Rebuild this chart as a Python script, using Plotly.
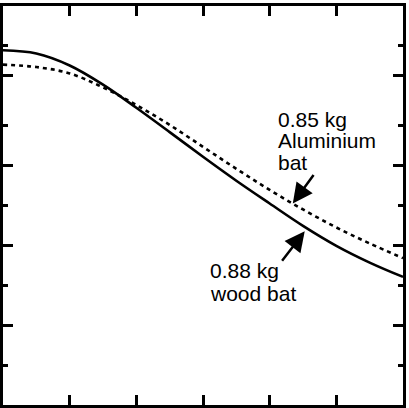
import plotly.graph_objects as go

# horizontal position (arbitrary units, no labels on the original)
x = [0, 0.5, 1, 1.5, 2, 2.5, 3, 3.5, 4, 4.5, 5, 5.5, 6]

# 0.88 kg wood bat (solid)
wood = [8.89, 8.81, 8.51, 8.03, 7.45, 6.84, 6.22, 5.62, 5.05, 4.49, 3.99, 3.57, 3.21]
# 0.85 kg aluminium bat (dotted)
alu = [8.53, 8.47, 8.31, 7.96, 7.52, 7.02, 6.47, 5.92, 5.39, 4.90, 4.45, 4.05, 3.68]

xticks = [1, 2, 3, 4, 5]
yticks_major = [2, 4, 6, 8.25]
yticks_minor = [1, 3, 5, 7, 9]

alu_label = ["0.85 kg", "Aluminium", "bat"]
wood_label = ["0.88 kg", "wood bat"]

FONT = "Liberation Sans, Arial, Helvetica, sans-serif"

fig = go.Figure()
fig.add_trace(go.Scatter(x=x, y=wood, mode="lines", line=dict(color="black", width=2.6, shape="spline"),
                         name="0.88 kg wood bat"))
fig.add_trace(go.Scatter(x=x, y=alu, mode="lines", line=dict(color="black", width=2.6, dash="4px,4px", shape="spline"),
                         name="0.85 kg Aluminium bat"))

# text labels, one annotation per line so the line spacing stays tight
for i, t in enumerate(alu_label):
    fig.add_annotation(x=4.094, y=7.16 - i * 0.54, text=t, showarrow=False, xanchor="left", yanchor="middle",
                       font=dict(family=FONT, size=21, color="black"))
for i, t in enumerate(wood_label):
    fig.add_annotation(x=3.08, y=3.36 - i * 0.57, text=t, showarrow=False, xanchor="left", yanchor="middle",
                       font=dict(family=FONT, size=21, color="black"))

# arrows
arrow = dict(text="", showarrow=True, arrowhead=2, arrowsize=1.6, arrowwidth=2.5, arrowcolor="black",
             axref="x", ayref="y")
fig.add_annotation(x=4.347, y=5.05, ax=4.675, ay=5.80, **arrow)
fig.add_annotation(x=4.526, y=4.353, ax=4.169, ay=3.58, **arrow)

axis_common = dict(showline=True, linecolor="black", linewidth=3, mirror="allticks", ticks="inside",
                   tickcolor="black", tickwidth=2.5, showticklabels=False, showgrid=False, zeroline=False)

fig.update_xaxes(range=[0, 6], tickmode="array", tickvals=xticks, ticklen=10, **axis_common)
fig.update_yaxes(range=[0, 10], tickmode="array", tickvals=yticks_major, ticklen=10,
                 minor=dict(tickmode="array", tickvals=yticks_minor, ticks="inside", ticklen=5,
                            tickwidth=2.5, tickcolor="black"),
                 **axis_common)

fig.update_layout(width=409, height=408, margin=dict(l=3, r=3, t=3, b=3),
                  paper_bgcolor="white", plot_bgcolor="white", showlegend=False)

# drop the page's default body margin so the figure sits at the window corner
fig.write_html("out.html", config={"displayModeBar": False},
               post_script="document.body.style.margin='0';")
